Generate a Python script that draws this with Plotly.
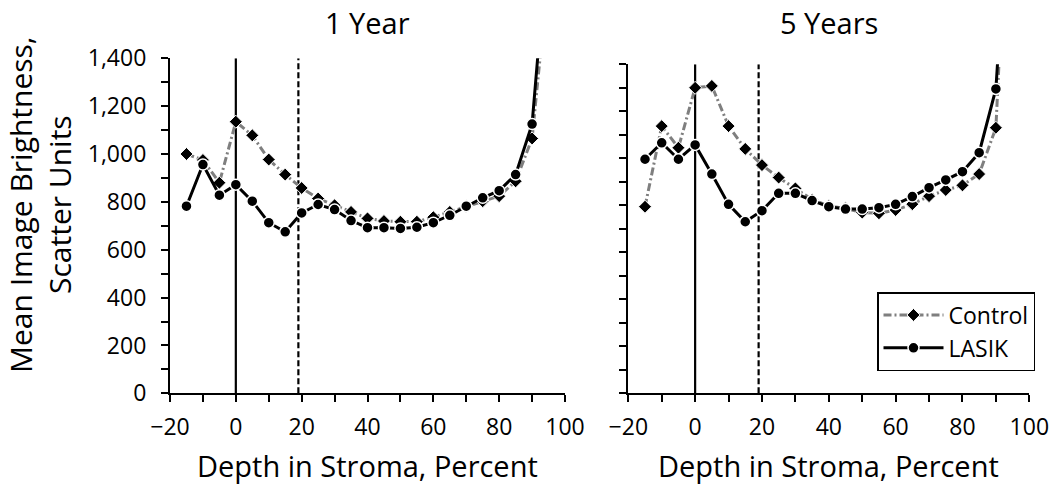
import plotly.graph_objects as go

# ---- data ----
depth = [-15, -10, -5, 0, 5, 10, 15, 20, 25, 30, 35, 40, 45, 50, 55, 60, 65, 70, 75, 80, 85, 90, 95]

control_1yr = [1000, 975, 880, 1135, 1078, 977, 914, 858, 814, 786, 758, 731, 720, 717, 717, 736, 758, 782, 803, 824, 886, 1065, 1760]
lasik_1yr = [782, 956, 828, 872, 803, 713, 675, 754, 789, 768, 722, 692, 692, 689, 694, 713, 744, 782, 817, 847, 914, 1125, 1940]

control_5yr = [794, 1137, 1045, 1300, 1308, 1137, 1040, 971, 918, 872, 825, 797, 787, 769, 766, 780, 805, 839, 865, 885, 933, 1130, 2600]
lasik_5yr = [996, 1066, 996, 1057, 933, 804, 730, 777, 851, 851, 820, 794, 784, 784, 790, 804, 837, 875, 908, 943, 1024, 1295, 2400]

panel_titles = ["1 Year", "5 Years"]
series_names = ["Control", "LASIK"]
x_title = "Depth in Stroma, Percent"
y_title = "Mean Image Brightness,<br>Scatter Units"
vline_solid = 0
vline_dashed = 19
y_max = 1400

FONT = "Open Sans"
W, H = 1050, 491

fig = go.Figure()

panels = [
    (control_1yr, lasik_1yr, "x", "y", True),
    (control_5yr, lasik_5yr, "x2", "y2", False),
]
for ctrl, las, xa, ya, show in panels:
    fig.add_trace(go.Scatter(
        x=depth, y=ctrl, xaxis=xa, yaxis=ya, name=series_names[0], showlegend=show,
        mode="lines+markers",
        line=dict(color="#7f7f7f", width=3, dash="8px,3px,2px,3px"),
        marker=dict(symbol="diamond", size=10, color="black", line=dict(color="white", width=1)),
    ))
    fig.add_trace(go.Scatter(
        x=depth, y=las, xaxis=xa, yaxis=ya, name=series_names[1], showlegend=show,
        mode="lines+markers",
        line=dict(color="black", width=3),
        marker=dict(symbol="circle", size=11, color="black", line=dict(color="white", width=1.5)),
    ))

# reference lines
for xa, ya in [("x", "y"), ("x2", "y2")]:
    fig.add_shape(type="line", xref=xa, yref=ya, x0=vline_solid, x1=vline_solid, y0=0, y1=y_max,
                  line=dict(color="black", width=2.2), layer="below")
    fig.add_shape(type="line", xref=xa, yref=ya, x0=vline_dashed, x1=vline_dashed, y0=0, y1=y_max,
                  line=dict(color="black", width=2.2, dash="6px,3px"), layer="below")

def px_x(p):
    return p / W

def px_y(p):
    return 1 - p / H

xdom1 = [px_x(170), px_x(565)]
xdom2 = [px_x(628.3), px_x(1029.3)]
ydom1 = [px_y(393.3), px_y(58.3)]
ydom2 = [px_y(393.3), px_y(64.3)]

tickfont = dict(family=FONT, size=23, color="black")
common_x = dict(range=[-20, 100], dtick=20, tick0=0, showgrid=False, zeroline=False,
                showline=True, linecolor="black", linewidth=2.2, automargin=False,
                ticks="outside", ticklen=7, tickwidth=2.2, tickcolor="black",
                minor=dict(dtick=10, ticks="outside", ticklen=7, tickwidth=2.2, tickcolor="black"),
                tickfont=tickfont, ticklabelstandoff=5)
common_y = dict(range=[0, y_max], dtick=200, tick0=0, showgrid=False, zeroline=False,
                showline=True, linecolor="black", linewidth=2.2, automargin=False,
                ticks="outside", ticklen=7, tickwidth=2.2, tickcolor="black",
                minor=dict(dtick=100, ticks="outside", ticklen=7, tickwidth=2.2, tickcolor="black"),
                tickfont=tickfont, tickformat=",d", ticklabelstandoff=10)

fig.update_layout(
    width=W, height=H,
    margin=dict(l=0, r=0, t=0, b=0, autoexpand=False),
    paper_bgcolor="white", plot_bgcolor="white",
    font=dict(family=FONT, color="black"),
    xaxis=dict(domain=xdom1, anchor="y", **common_x),
    yaxis=dict(domain=ydom1, anchor="x", **common_y),
    xaxis2=dict(domain=xdom2, anchor="y2", **common_x),
    yaxis2=dict(domain=ydom2, anchor="x2", showticklabels=False, **common_y),
    legend=dict(x=px_x(877), y=px_y(292), xanchor="left", yanchor="top",
                bordercolor="black", borderwidth=1.5, bgcolor="white",
                itemwidth=60,
                font=dict(family=FONT, size=23, color="black")),
    showlegend=True,
    hovermode=False,
)

annotations = []
for title, dom in zip(panel_titles, [xdom1, xdom2]):
    cx = (dom[0] + dom[1]) / 2
    annotations.append(dict(text=title, x=cx, y=px_y(22), xref="paper", yref="paper",
                            showarrow=False, font=dict(family=FONT, size=29, color="black"),
                            xanchor="center", yanchor="middle"))
    annotations.append(dict(text=x_title, x=cx, y=px_y(465), xref="paper", yref="paper",
                            showarrow=False, font=dict(family=FONT, size=29, color="black"),
                            xanchor="center", yanchor="middle"))
annotations.append(dict(text=y_title, x=px_x(40), y=px_y(205), xref="paper", yref="paper",
                        showarrow=False, textangle=-90, font=dict(family=FONT, size=30, color="black"),
                        xanchor="center", yanchor="middle"))
fig.update_layout(annotations=annotations)

fig.write_html("out.html", config={"displayModeBar": False},
               post_script="document.body.style.margin='0';document.body.style.overflow='hidden';")
